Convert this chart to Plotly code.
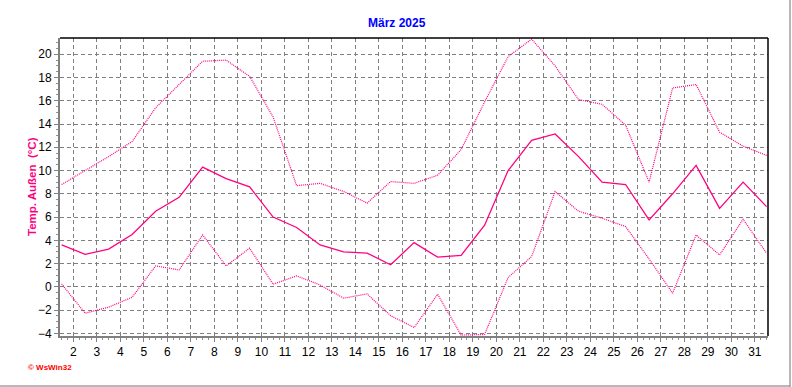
import plotly.graph_objects as go

days = list(range(1, 32))
temp_max = [8.8, 10.0, 11.2, 12.5, 15.4, 17.4, 19.4, 19.5, 18.1, 14.6,
            8.7, 8.9, 8.2, 7.2, 9.05, 8.9, 9.6, 11.8, 15.9, 19.8,
            21.3, 19.0, 16.1, 15.7, 13.9, 9.0, 17.1, 17.4, 13.3, 12.1, 11.3]
temp_mean = [3.6, 2.8, 3.25, 4.5, 6.5, 7.7, 10.3, 9.3, 8.6, 6.0,
             5.1, 3.6, 3.0, 2.9, 1.9, 3.8, 2.55, 2.7, 5.3, 10.0,
             12.6, 13.15, 11.2, 9.0, 8.8, 5.75, 8.0, 10.45, 6.75, 9.0, 6.9]
temp_min = [0.25, -2.27, -1.75, -0.9, 1.8, 1.45, 4.46, 1.8, 3.32, 0.22,
            0.94, 0.16, -0.98, -0.61, -2.48, -3.5, -0.64, -4.15, -4.1, 0.8,
            2.6, 8.19, 6.5, 5.9, 5.18, 2.4, -0.55, 4.46, 2.74, 5.81, 2.89]
x_ticks = list(range(2, 32))
y_ticks = list(range(-4, 21, 2))

title_text = "März 2025"
y_title = "Temp. Außen\u00a0\u00a0(°C)"
footer = "© WsWin32"

pink = "#FF0080"
xs = [d + 0.5 for d in days]

fig = go.Figure()
fig.add_trace(go.Scatter(x=xs, y=temp_max, mode="lines", hoverinfo="skip",
                         line=dict(color=pink, width=1.2, dash="1px,1px")))
fig.add_trace(go.Scatter(x=xs, y=temp_min, mode="lines", hoverinfo="skip",
                         line=dict(color=pink, width=1.2, dash="1px,1px")))
fig.add_trace(go.Scatter(x=xs, y=temp_mean, mode="lines", hoverinfo="skip",
                         line=dict(color=pink, width=1.3)))

L, R, T, B = 60, 23.5, 38, 51
W, H = 792, 387
pw, ph = W - L - R, H - T - B


def px(xp):
    return (xp - L) / pw


def py(yp):
    return (H - B - yp) / ph


tickfont = dict(family="Arial, Liberation Sans, sans-serif", size=12, color="black")
fig.update_layout(
    width=W, height=H,
    margin=dict(l=L, r=R, t=T, b=B),
    paper_bgcolor="white", plot_bgcolor="white",
    showlegend=False,
    xaxis=dict(range=[1.43, 31.56], tickvals=x_ticks, ticktext=[str(v) for v in x_ticks],
               showgrid=True, gridcolor="#808080", gridwidth=1, griddash="4px,3px",
               zeroline=False, showline=True, linecolor="#808080", linewidth=2,
               ticks="outside", ticklen=4, tickcolor="#808080", tickwidth=1,
               minor=dict(dtick=0.25, tick0=0, ticks="outside", ticklen=2,
                          tickcolor="#909090", showgrid=False),
               tickfont=tickfont, fixedrange=True),
    yaxis=dict(range=[-4.23, 21.4], tickvals=y_ticks,
               showgrid=True, gridcolor="#808080", gridwidth=1, griddash="4px,3px",
               zeroline=False, showline=True, linecolor="#808080", linewidth=2,
               ticks="outside", ticklen=4, tickcolor="#808080", tickwidth=1,
               minor=dict(dtick=0.5, tick0=0, ticks="outside", ticklen=2,
                          tickcolor="#909090", showgrid=False),
               tickfont=tickfont, fixedrange=True),
    shapes=[
        dict(type="line", xref="paper", yref="paper", x0=0, x1=1, y0=1, y1=1,
             line=dict(color="black", width=1.5)),
        dict(type="line", xref="paper", yref="paper", x0=1, x1=1, y0=0, y1=1,
             line=dict(color="black", width=1.5)),
        dict(type="line", xref="paper", yref="paper", x0=px(790.5), x1=px(790.5),
             y0=py(387), y1=py(0), line=dict(color="#a0a0a0", width=1.5)),
        dict(type="line", xref="paper", yref="paper", x0=px(0), x1=px(791),
             y0=py(386), y1=py(386), line=dict(color="#a0a0a0", width=1.5)),
    ],
    annotations=[
        dict(text="<b>" + title_text + "</b>", xref="paper", yref="paper",
             x=px(397), y=py(23), xanchor="center", yanchor="middle", showarrow=False,
             font=dict(family="Arial, Liberation Sans, sans-serif", size=12, color="#0000FF")),
        dict(text="<b>" + y_title + "</b>", xref="paper", yref="paper",
             x=px(32), y=py(187), xanchor="center", yanchor="middle", showarrow=False,
             textangle=-90,
             font=dict(family="Arial, Liberation Sans, sans-serif", size=11.5, color=pink)),
        dict(text="<b>" + footer + "</b>", xref="paper", yref="paper",
             x=px(26), y=py(367), xanchor="left", yanchor="middle", showarrow=False,
             font=dict(family="Arial, Liberation Sans, sans-serif", size=8, color="#FF0000")),
    ],
)

fig.write_html("out.html", config={"displayModeBar": False, "staticPlot": True},
               post_script="document.body.style.margin='0';document.body.style.overflow='hidden';")
